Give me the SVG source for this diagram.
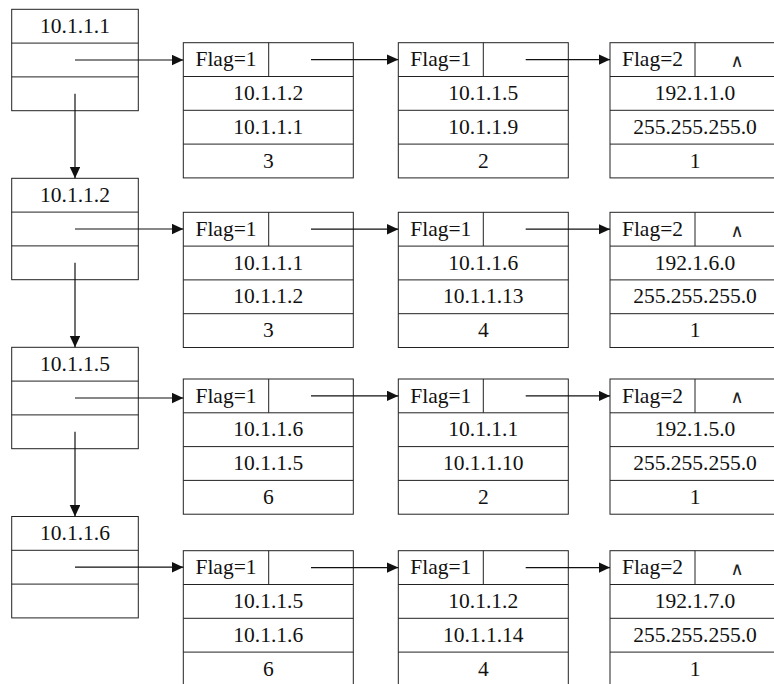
<svg xmlns="http://www.w3.org/2000/svg" width="774" height="684" viewBox="0 0 774 684">
<defs>
<style>
.box{fill:#fff;stroke:#222;stroke-width:1}
.sep{stroke:#222;stroke-width:1}
text{font-family:'Liberation Serif','DejaVu Serif',serif}
.t{font-size:21.5px;fill:#111;text-anchor:middle}
.ar{stroke:#111;stroke-width:1.2;fill:none;marker-end:url(#ah)}
.nil{font-size:18px;fill:#222;text-anchor:middle}
</style>
<marker id="ah" markerUnits="userSpaceOnUse" markerWidth="12" markerHeight="11" refX="11.5" refY="5.3" orient="auto">
<path d="M0,0 L11.5,5.3 L0,10.6 z" fill="#111"/>
</marker>
</defs>
<rect width="774" height="684" fill="#fff"/>
<g font-family="Liberation Serif, DejaVu Serif, serif">
<!-- Group 1 -->
<g id="h1"><rect class="box" x="11.7" y="9.3" width="126.6" height="101.4"/><line class="sep" x1="11.7" y1="43.1" x2="138.3" y2="43.1"/><line class="sep" x1="11.7" y1="76.9" x2="138.3" y2="76.9"/><text class="t" x="75" y="33">10.1.1.1</text></g>
<g id="r1a"><rect class="box" x="183.3" y="42.7" width="170" height="135.2"/><line class="sep" x1="268.7" y1="42.7" x2="268.7" y2="76.5"/><line class="sep" x1="183.3" y1="76.5" x2="353.3" y2="76.5"/><line class="sep" x1="183.3" y1="110.3" x2="353.3" y2="110.3"/><line class="sep" x1="183.3" y1="144.1" x2="353.3" y2="144.1"/><text class="t" x="226" y="66.2">Flag=1</text><text class="t" x="268.3" y="100">10.1.1.2</text><text class="t" x="268.3" y="133.8">10.1.1.1</text><text class="t" x="268.3" y="167.6">3</text></g>
<g id="r1b"><rect class="box" x="398.3" y="42.7" width="170" height="135.2"/><line class="sep" x1="483.3" y1="42.7" x2="483.3" y2="76.5"/><line class="sep" x1="398.3" y1="76.5" x2="568.3" y2="76.5"/><line class="sep" x1="398.3" y1="110.3" x2="568.3" y2="110.3"/><line class="sep" x1="398.3" y1="144.1" x2="568.3" y2="144.1"/><text class="t" x="440.8" y="66.2">Flag=1</text><text class="t" x="483.3" y="100">10.1.1.5</text><text class="t" x="483.3" y="133.8">10.1.1.9</text><text class="t" x="483.3" y="167.6">2</text></g>
<g id="r1c"><rect class="box" x="610" y="42.7" width="170" height="135.2"/><line class="sep" x1="695" y1="42.7" x2="695" y2="76.5"/><line class="sep" x1="610" y1="76.5" x2="780" y2="76.5"/><line class="sep" x1="610" y1="110.3" x2="780" y2="110.3"/><line class="sep" x1="610" y1="144.1" x2="780" y2="144.1"/><text class="t" x="652.5" y="66.2">Flag=2</text><text class="nil" x="737" y="66.7">∧</text><text class="t" x="695" y="100">192.1.1.0</text><text class="t" x="695" y="133.8">255.255.255.0</text><text class="t" x="695" y="167.6">1</text></g>

<!-- Group 2 -->
<g id="h2"><rect class="box" x="11.7" y="178.3" width="126.6" height="101.4"/><line class="sep" x1="11.7" y1="212.1" x2="138.3" y2="212.1"/><line class="sep" x1="11.7" y1="245.9" x2="138.3" y2="245.9"/><text class="t" x="75" y="202">10.1.1.2</text></g>
<g id="r2a"><rect class="box" x="183.3" y="212.3" width="170" height="135.2"/><line class="sep" x1="268.7" y1="212.3" x2="268.7" y2="246.1"/><line class="sep" x1="183.3" y1="246.1" x2="353.3" y2="246.1"/><line class="sep" x1="183.3" y1="279.9" x2="353.3" y2="279.9"/><line class="sep" x1="183.3" y1="313.7" x2="353.3" y2="313.7"/><text class="t" x="226" y="235.8">Flag=1</text><text class="t" x="268.3" y="269.6">10.1.1.1</text><text class="t" x="268.3" y="303.4">10.1.1.2</text><text class="t" x="268.3" y="337.2">3</text></g>
<g id="r2b"><rect class="box" x="398.3" y="212.3" width="170" height="135.2"/><line class="sep" x1="483.3" y1="212.3" x2="483.3" y2="246.1"/><line class="sep" x1="398.3" y1="246.1" x2="568.3" y2="246.1"/><line class="sep" x1="398.3" y1="279.9" x2="568.3" y2="279.9"/><line class="sep" x1="398.3" y1="313.7" x2="568.3" y2="313.7"/><text class="t" x="440.8" y="235.8">Flag=1</text><text class="t" x="483.3" y="269.6">10.1.1.6</text><text class="t" x="483.3" y="303.4">10.1.1.13</text><text class="t" x="483.3" y="337.2">4</text></g>
<g id="r2c"><rect class="box" x="610" y="212.3" width="170" height="135.2"/><line class="sep" x1="695" y1="212.3" x2="695" y2="246.1"/><line class="sep" x1="610" y1="246.1" x2="780" y2="246.1"/><line class="sep" x1="610" y1="279.9" x2="780" y2="279.9"/><line class="sep" x1="610" y1="313.7" x2="780" y2="313.7"/><text class="t" x="652.5" y="235.8">Flag=2</text><text class="nil" x="737" y="236.8">∧</text><text class="t" x="695" y="269.6">192.1.6.0</text><text class="t" x="695" y="303.4">255.255.255.0</text><text class="t" x="695" y="337.2">1</text></g>

<!-- Group 3 -->
<g id="h3"><rect class="box" x="11.7" y="347.3" width="126.6" height="101.4"/><line class="sep" x1="11.7" y1="381.1" x2="138.3" y2="381.1"/><line class="sep" x1="11.7" y1="414.9" x2="138.3" y2="414.9"/><text class="t" x="75" y="371">10.1.1.5</text></g>
<g id="r3a"><rect class="box" x="183.3" y="379" width="170" height="135.2"/><line class="sep" x1="268.7" y1="379" x2="268.7" y2="412.8"/><line class="sep" x1="183.3" y1="412.8" x2="353.3" y2="412.8"/><line class="sep" x1="183.3" y1="446.6" x2="353.3" y2="446.6"/><line class="sep" x1="183.3" y1="480.4" x2="353.3" y2="480.4"/><text class="t" x="226" y="402.5">Flag=1</text><text class="t" x="268.3" y="436.3">10.1.1.6</text><text class="t" x="268.3" y="470.1">10.1.1.5</text><text class="t" x="268.3" y="503.9">6</text></g>
<g id="r3b"><rect class="box" x="398.3" y="379" width="170" height="135.2"/><line class="sep" x1="483.3" y1="379" x2="483.3" y2="412.8"/><line class="sep" x1="398.3" y1="412.8" x2="568.3" y2="412.8"/><line class="sep" x1="398.3" y1="446.6" x2="568.3" y2="446.6"/><line class="sep" x1="398.3" y1="480.4" x2="568.3" y2="480.4"/><text class="t" x="440.8" y="402.5">Flag=1</text><text class="t" x="483.3" y="436.3">10.1.1.1</text><text class="t" x="483.3" y="470.1">10.1.1.10</text><text class="t" x="483.3" y="503.9">2</text></g>
<g id="r3c"><rect class="box" x="610" y="379" width="170" height="135.2"/><line class="sep" x1="695" y1="379" x2="695" y2="412.8"/><line class="sep" x1="610" y1="412.8" x2="780" y2="412.8"/><line class="sep" x1="610" y1="446.6" x2="780" y2="446.6"/><line class="sep" x1="610" y1="480.4" x2="780" y2="480.4"/><text class="t" x="652.5" y="402.5">Flag=2</text><text class="nil" x="737" y="403.3">∧</text><text class="t" x="695" y="436.3">192.1.5.0</text><text class="t" x="695" y="470.1">255.255.255.0</text><text class="t" x="695" y="503.9">1</text></g>

<!-- Group 4 -->
<g id="h4"><rect class="box" x="11.7" y="516.5" width="126.6" height="101.4"/><line class="sep" x1="11.7" y1="550.3" x2="138.3" y2="550.3"/><line class="sep" x1="11.7" y1="584.1" x2="138.3" y2="584.1"/><text class="t" x="75" y="540.2">10.1.1.6</text></g>
<g id="r4a"><rect class="box" x="183.3" y="550.7" width="170" height="135.2"/><line class="sep" x1="268.7" y1="550.7" x2="268.7" y2="584.5"/><line class="sep" x1="183.3" y1="584.5" x2="353.3" y2="584.5"/><line class="sep" x1="183.3" y1="618.3" x2="353.3" y2="618.3"/><line class="sep" x1="183.3" y1="652.1" x2="353.3" y2="652.1"/><text class="t" x="226" y="574.2">Flag=1</text><text class="t" x="268.3" y="608">10.1.1.5</text><text class="t" x="268.3" y="641.8">10.1.1.6</text><text class="t" x="268.3" y="675.6">6</text></g>
<g id="r4b"><rect class="box" x="398.3" y="550.7" width="170" height="135.2"/><line class="sep" x1="483.3" y1="550.7" x2="483.3" y2="584.5"/><line class="sep" x1="398.3" y1="584.5" x2="568.3" y2="584.5"/><line class="sep" x1="398.3" y1="618.3" x2="568.3" y2="618.3"/><line class="sep" x1="398.3" y1="652.1" x2="568.3" y2="652.1"/><text class="t" x="440.8" y="574.2">Flag=1</text><text class="t" x="483.3" y="608">10.1.1.2</text><text class="t" x="483.3" y="641.8">10.1.1.14</text><text class="t" x="483.3" y="675.6">4</text></g>
<g id="r4c"><rect class="box" x="610" y="550.7" width="170" height="135.2"/><line class="sep" x1="695" y1="550.7" x2="695" y2="584.5"/><line class="sep" x1="610" y1="584.5" x2="780" y2="584.5"/><line class="sep" x1="610" y1="618.3" x2="780" y2="618.3"/><line class="sep" x1="610" y1="652.1" x2="780" y2="652.1"/><text class="t" x="652.5" y="574.2">Flag=2</text><text class="nil" x="737" y="575">∧</text><text class="t" x="695" y="608">192.1.7.0</text><text class="t" x="695" y="641.8">255.255.255.0</text><text class="t" x="695" y="675.6">1</text></g>
</g>
<g id="connectors">
<line class="ar" x1="75" y1="60" x2="183.3" y2="60"/>
<line class="ar" x1="311" y1="59.6" x2="398.3" y2="59.6"/>
<line class="ar" x1="525.7" y1="59.6" x2="610" y2="59.6"/>
<line class="ar" x1="75" y1="229" x2="183.3" y2="229"/>
<line class="ar" x1="311" y1="229.2" x2="398.3" y2="229.2"/>
<line class="ar" x1="525.7" y1="229.2" x2="610" y2="229.2"/>
<line class="ar" x1="75" y1="398" x2="183.3" y2="398"/>
<line class="ar" x1="311" y1="395.9" x2="398.3" y2="395.9"/>
<line class="ar" x1="525.7" y1="395.9" x2="610" y2="395.9"/>
<line class="ar" x1="75" y1="567.2" x2="183.3" y2="567.2"/>
<line class="ar" x1="311" y1="567.6" x2="398.3" y2="567.6"/>
<line class="ar" x1="525.7" y1="567.6" x2="610" y2="567.6"/>
<line class="ar" x1="75" y1="93.8" x2="75" y2="178.3"/>
<line class="ar" x1="75" y1="262.8" x2="75" y2="347.3"/>
<line class="ar" x1="75" y1="431.8" x2="75" y2="516.5"/>
</g>
</svg>
